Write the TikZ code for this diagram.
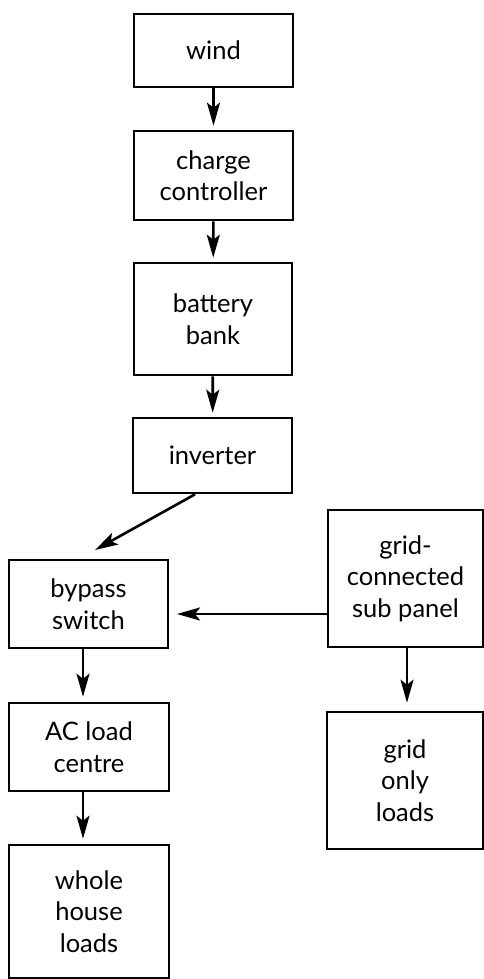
\documentclass[tikz,border=0pt]{standalone}
\usepackage{fontspec}
\setmainfont{Lato}
\usetikzlibrary{arrows.meta,calc}
\begin{document}
\begin{tikzpicture}[x=1pt,y=-1pt,
  box/.style={draw=black,line width=2.6pt,rectangle,align=center,inner sep=0pt,
    font=\fontsize{25.5}{31.5}\selectfont,text=black},
  conn/.style={line width=2.6pt,-{Stealth[length=23pt,width=13pt,inset=5pt]}}]
\useasboundingbox (0,0) rectangle (484,979);
\node[box,minimum width=159pt,minimum height=73pt] (wind) at (213.5,50.5) {wind};
\node[box,minimum width=159pt,minimum height=89pt] (charge) at (213.5,175.5) {charge\\controller};
\node[box,minimum width=158pt,minimum height=112pt] (battery) at (213,319) {battery\\bank};
\node[box,minimum width=159pt,minimum height=75pt] (inverter) at (212.5,455.5) {inverter};
\node[box,minimum width=159pt,minimum height=88pt] (bypass) at (88.5,604) {bypass\\switch};
\node[box,minimum width=155pt,minimum height=137pt] (gridc) at (405.5,578.5) {grid-\\connected\\sub panel};
\node[box,minimum width=160pt,minimum height=88pt] (acload) at (89,747) {AC load\\centre};
\node[box,minimum width=160pt,minimum height=133pt] (whole) at (89,911.5) {whole\\house\\loads};
\node[box,minimum width=156pt,minimum height=137pt] (gridonly) at (405,780.5) {grid\\only\\loads};
\coordinate (invout) at ($(inverter.south)+(-17.5,0)$);
\coordinate (bypin) at (95,550);
\coordinate (gridout) at (gridc.west |- 0,614);
\coordinate (bypside) at (177,614);
\draw[conn,shorten >=4pt] (wind) -- (charge);
\draw[conn,shorten >=4pt] (charge) -- (battery);
\draw[conn,shorten >=4pt] (battery) -- (inverter);
\draw[conn] (invout) -- (bypin);
\draw[conn] (gridout) -- (bypside);
\draw[conn,shorten >=5pt] (bypass.south -| 83,0) -- (acload.north -| 83,0);
\draw[conn,shorten >=5pt] (acload.south -| 83,0) -- (whole.north -| 83,0);
\draw[conn,shorten >=8pt] (gridc.south -| 407,0) -- (gridonly.north -| 407,0);
\end{tikzpicture}
\end{document}
